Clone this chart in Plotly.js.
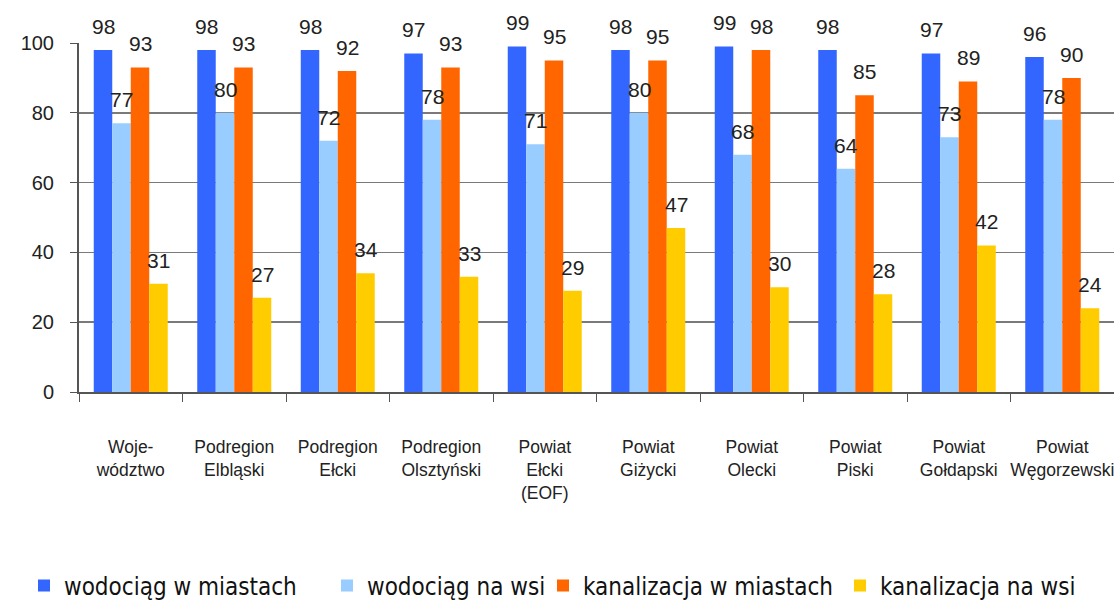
<!DOCTYPE html>
<html>
<head>
<meta charset="utf-8">
<script src="https://cdn.plot.ly/plotly-3.0.1.min.js"></script>
<style>html,body{margin:0;padding:0;background:#fff;}#chart{width:1114px;height:602px;}</style>
</head>
<body>
<div id="chart"></div>
<script>
var categories = ["Woje-<br>wództwo", "Podregion<br>Elbląski", "Podregion<br>Ełcki", "Podregion<br>Olsztyński", "Powiat<br>Ełcki<br>(EOF)", "Powiat<br>Giżycki", "Powiat<br>Olecki", "Powiat<br>Piski", "Powiat<br>Gołdapski", "Powiat<br>Węgorzewski"];
var seriesNames = ["wodociąg w miastach", "wodociąg na wsi", "kanalizacja w miastach", "kanalizacja na wsi"];
var wodociagMiasta = [98, 98, 98, 97, 99, 98, 99, 98, 97, 96];
var wodociagWies = [77, 80, 72, 78, 71, 80, 68, 64, 73, 78];
var kanalizacjaMiasta = [93, 93, 92, 93, 95, 95, 98, 85, 89, 90];
var kanalizacjaWies = [31, 27, 34, 33, 29, 47, 30, 28, 42, 24];
var yTicks = [0, 20, 40, 60, 80, 100];

var seriesValues = [wodociagMiasta, wodociagWies, kanalizacjaMiasta, kanalizacjaWies];
var colors = ["#3366FF", "#99CCFF", "#FF6600", "#FFCC00"];
var legendNames = ["legend", "legend2", "legend3", "legend4"];
var legendX = [24, 327, 543, 840];
var bargap = 0.285;

var traces = seriesValues.map(function (vals, i) {
  return {
    type: "bar",
    name: seriesNames[i],
    x: categories,
    y: vals,
    marker: {color: colors[i], line: {width: 0}},
    legend: legendNames[i],
    hoverinfo: "none"
  };
});

var annotations = [];
var bw = (1 - bargap) / 4;
seriesValues.forEach(function (vals, i) {
  vals.forEach(function (v, j) {
    annotations.push({
      x: j + (i - 1.5) * bw,
      y: v,
      xref: "x",
      yref: "y",
      text: String(v),
      showarrow: false,
      yanchor: "bottom",
      yshift: 10,
      font: {family: "Liberation Sans, Arial, sans-serif", size: 21, color: "#222"}
    });
  });
});

var layout = {
  width: 1114,
  height: 602,
  margin: {l: 79, r: 0, t: 43, b: 210},
  paper_bgcolor: "#fff",
  plot_bgcolor: "#fff",
  barmode: "group",
  bargap: bargap,
  bargroupgap: 0,
  font: {family: "Liberation Sans, Arial, sans-serif", color: "#222"},
  xaxis: {
    type: "category",
    tickson: "boundaries",
    ticks: "outside",
    ticklen: 8,
    tickcolor: "#555",
    tickwidth: 1,
    showline: true,
    linecolor: "#555",
    linewidth: 2,
    showgrid: false,
    tickangle: 0,
    ticklabelstandoff: 38,
    tickfont: {family: "Liberation Sans, Arial, sans-serif", size: 17.5, color: "#222"},
    fixedrange: true
  },
  yaxis: {
    range: [0, 100],
    tickvals: yTicks,
    ticktext: yTicks.map(String),
    ticks: "outside",
    ticklen: 7,
    tickcolor: "#555",
    showline: true,
    linecolor: "#555",
    linewidth: 2,
    showgrid: true,
    gridcolor: "#7a7a7a",
    gridwidth: 1.5,
    zeroline: false,
    ticklabelstandoff: 12,
    tickfont: {family: "Liberation Sans, Arial, sans-serif", size: 20, color: "#222"},
    fixedrange: true
  },
  annotations: annotations,
  showlegend: true
};

var legendFont = {family: "Liberation Sans Narrow, DejaVu Sans Condensed, Arial Narrow, sans-serif", size: 24, color: "#111"};
legendNames.forEach(function (ln, i) {
  layout[ln] = {
    xref: "container",
    yref: "container",
    x: legendX[i] / 1114,
    y: 16 / 602,
    xanchor: "left",
    yanchor: "middle",
    orientation: "h",
    font: legendFont,
    bgcolor: "rgba(0,0,0,0)",
    itemwidth: 30
  };
});

Plotly.newPlot("chart", traces, layout, {displayModeBar: false, staticPlot: true});
</script>
</body>
</html>
